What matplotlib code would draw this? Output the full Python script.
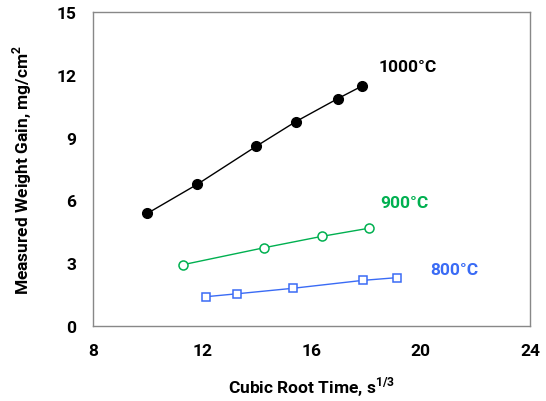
import matplotlib
matplotlib.use("Agg")
import matplotlib.pyplot as plt

plt.rcParams['font.family'] = ['Roboto', 'DejaVu Sans']
plt.rcParams['mathtext.fontset'] = 'custom'
plt.rcParams['mathtext.bf'] = 'Roboto:bold'
plt.rcParams['mathtext.rm'] = 'Roboto'

x1000 = [9.99, 11.82, 13.97, 15.42, 16.96, 17.86]
y1000 = [5.38, 6.77, 8.58, 9.76, 10.86, 11.47]
x900 = [11.30, 14.27, 16.37, 18.10]
y900 = [2.93, 3.74, 4.28, 4.67]
x800 = [12.14, 13.28, 15.31, 17.88, 19.13]
y800 = [1.40, 1.54, 1.80, 2.18, 2.31]
xticks = [8, 12, 16, 20, 24]
yticks = [0, 3, 6, 9, 12, 15]

green = '#00B050'
blue = '#3A6BF5'

fig = plt.figure(figsize=(5.46, 4.02), dpi=100)
ax = fig.add_axes([93/546, 1-327/402, (530-93)/546, (327-13)/402])

ax.plot(x1000, y1000, color='black', lw=1, marker='o', ms=7, mfc='black', mec='black')
ax.plot(x900, y900, color=green, lw=1, marker='o', ms=6.5, mfc='white', mec=green, mew=1.1)
ax.plot(x800, y800, color=blue, lw=1, marker='s', ms=5.5, mfc='white', mec=blue, mew=1.1)

ax.text(18.44, 12.42, '1000°C', color='black', fontsize=12.5, fontweight='bold', va='center', ha='left')
ax.text(18.5, 5.88, '900°C', color=green, fontsize=12.5, fontweight='bold', va='center', ha='left')
ax.text(20.34, 2.72, '800°C', color=blue, fontsize=12.5, fontweight='bold', va='center', ha='left')

ax.set_xlim(8, 24)
ax.set_ylim(0, 15)
ax.set_xticks(xticks)
ax.set_yticks(yticks)
ax.tick_params(length=0, labelsize=12.5, pad=12)
for lab in ax.get_xticklabels() + ax.get_yticklabels():
    lab.set_fontweight('bold')
for s in ax.spines.values():
    s.set_color('#888888')
    s.set_linewidth(1)

ax.set_xlabel('Cubic Root Time, s$^{\\mathbf{1/3}}$', fontsize=12.5, fontweight='bold', labelpad=12)
ax.set_ylabel('Measured Weight Gain, mg/cm$^{\\mathbf{2}}$', fontsize=12.5, fontweight='bold', labelpad=16)

fig.savefig('out.png', dpi=100)
